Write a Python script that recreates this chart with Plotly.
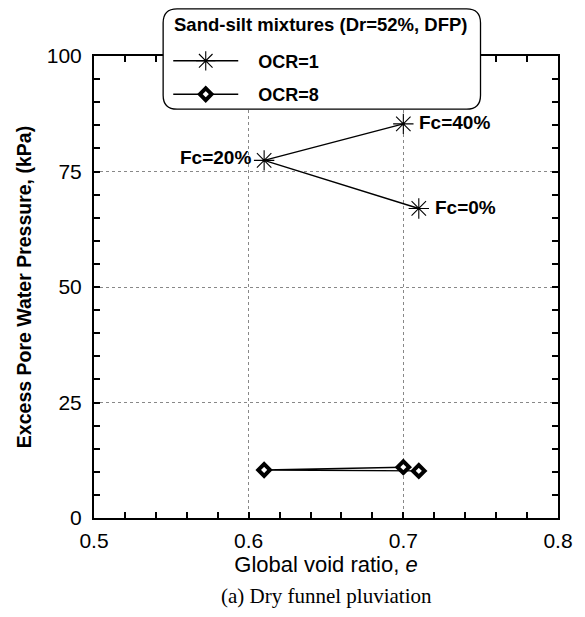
import plotly.graph_objects as go

# Global void ratio and excess pore water pressure for each fines content
fines_labels = ["Fc=0%", "Fc=20%", "Fc=40%"]
void_ratio = [0.71, 0.61, 0.70]
epwp_ocr1 = [67.0, 77.4, 85.3]
epwp_ocr8 = [10.2, 10.4, 11.0]

x_ticks = [0.5, 0.6, 0.7, 0.8]
y_ticks = [0, 25, 50, 75, 100]

NBSP = "\u00a0"

fig = go.Figure()

fig.add_trace(go.Scatter(
    x=void_ratio, y=epwp_ocr1, mode="lines+markers", name=NBSP * 3 + "OCR=1", legendgroup="a",
    line=dict(color="black", width=1.4),
    marker=dict(symbol="asterisk-open", size=17, line=dict(color="black", width=1.1)),
))
fig.add_trace(go.Scatter(
    x=void_ratio, y=epwp_ocr8, mode="lines+markers", name=NBSP * 3 + "OCR=8", legendgroup="b",
    line=dict(color="black", width=1.4),
    marker=dict(symbol="diamond", size=9, color="white", line=dict(color="black", width=4)),
))

# Fines-content labels next to the OCR=1 points
label_pos = {"Fc=0%": ("left", 14, 1), "Fc=20%": ("right", -11, 3), "Fc=40%": ("left", 14, 1)}
for lab, xv, yv in zip(fines_labels, void_ratio, epwp_ocr1):
    anchor, shift, yshift = label_pos[lab]
    fig.add_annotation(
        x=xv, y=yv, text=lab, showarrow=False, xanchor=anchor, xshift=shift, yshift=yshift,
        font=dict(family="Liberation Sans, Arial", size=19, color="black", weight="bold"),
    )

# Rounded legend frame
x0, x1, y0, y1 = 0.149, 0.833, 0.885, 1.102
r = 0.03
ry = r * 467 / 463
path = (f"M {x0 + r},{y1} L {x1 - r},{y1} Q {x1},{y1} {x1},{y1 - ry} "
        f"L {x1},{y0 + ry} Q {x1},{y0} {x1 - r},{y0} L {x0 + r},{y0} "
        f"Q {x0},{y0} {x0},{y0 + ry} L {x0},{y1 - ry} Q {x0},{y1} {x0 + r},{y1} Z")
fig.add_shape(type="path", path=path, xref="paper", yref="paper",
              line=dict(color="black", width=1.3), fillcolor="white", layer="above")

fig.add_annotation(
    x=0.49, y=1.068, xref="paper", yref="paper", showarrow=False,
    text="Sand-silt mixtures (Dr=52%, DFP)", xanchor="center", yanchor="middle",
    font=dict(family="Liberation Sans, Arial", size=18.5, color="black", weight="bold"),
)

fig.add_annotation(
    x=0.5, y=-0.168, xref="paper", yref="paper", showarrow=False,
    text="(a) Dry funnel pluviation", xanchor="center", yanchor="middle",
    font=dict(family="Liberation Serif, Times New Roman", size=21, color="black"),
)

axis_common = dict(
    showline=True, linecolor="black", linewidth=2, mirror="ticks",
    ticks="inside", ticklen=6, tickwidth=1.5, tickcolor="black",
    showgrid=True, gridcolor="#888888", griddash="dot", gridwidth=1,
    zeroline=False,
    tickfont=dict(family="Liberation Sans, Arial", size=21, color="black"),
)

fig.update_xaxes(
    range=[0.5, 0.8], tickvals=x_ticks, ticktext=[str(v) for v in x_ticks],
    ticklabelstandoff=3,
    minor=dict(dtick=0.02, ticks="inside", ticklen=6, tickwidth=1.5, tickcolor="black", showgrid=False),
    title=dict(text="Global void ratio, <i>e</i>", standoff=0,
               font=dict(family="Liberation Sans, Arial", size=22, color="black")),
    **axis_common,
)
fig.update_yaxes(
    range=[0, 100], tickvals=y_ticks,
    ticklabelstandoff=6,
    minor=dict(dtick=5, ticks="inside", ticklen=6, tickwidth=1.5, tickcolor="black", showgrid=False),
    title=dict(text="Excess Pore Water Pressure, (kPa)", standoff=10,
               font=dict(family="Liberation Sans, Arial", size=19.5, color="black", weight="bold")),
    **axis_common,
)

fig.update_layout(
    width=585, height=617,
    margin=dict(l=94, r=24, t=56, b=99),
    paper_bgcolor="white", plot_bgcolor="white",
    showlegend=True,
    legend=dict(
        x=0.16, y=1.029, xanchor="left", yanchor="top",
        bgcolor="rgba(0,0,0,0)", borderwidth=0,
        font=dict(family="Liberation Sans, Arial", size=18, color="black", weight="bold"),
        itemwidth=65, tracegroupgap=7,
    ),
)

fig.write_html("out.html")
